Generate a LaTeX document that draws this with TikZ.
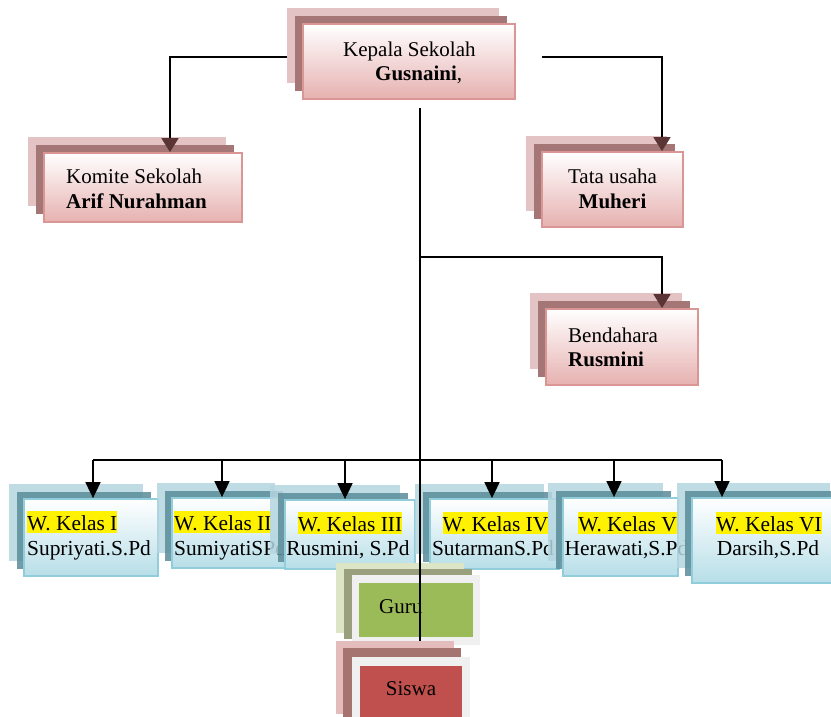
\documentclass[tikz,border=0pt]{standalone}
\usepackage{fontspec}
\setmainfont{Liberation Serif}
\usetikzlibrary{calc,fit,arrows.meta}
\definecolor{pinkL}{HTML}{E3C3C3}
\definecolor{pinkD}{HTML}{A57676}
\definecolor{pinkB}{HTML}{E6B1B0}
\definecolor{pinkE}{HTML}{D99694}
\definecolor{blueL}{HTML}{B4D6E0}
\definecolor{blueD}{HTML}{5E8F9C}
\definecolor{blueB}{HTML}{B7DEE8}
\definecolor{blueE}{HTML}{92CDDC}
\definecolor{arrowc}{HTML}{5B3535}
\definecolor{guruG}{HTML}{9BBB59}
\definecolor{guruL}{HTML}{DCE6C6}
\definecolor{guruD}{HTML}{9A9F7E}
\definecolor{siswaR}{HTML}{C0504D}
\definecolor{siswaL}{HTML}{E3BCBB}
\definecolor{siswaD}{HTML}{A57470}
\definecolor{frameG}{HTML}{F0F0F0}
\tikzset{
 txt/.style={font=\fontsize{21}{25}\selectfont, inner sep=0pt, anchor=base west},
 ktxt/.style={txt, font=\fontsize{21.4}{25}\selectfont},
 hl/.style={ktxt, fill=yellow, text height=19pt, text depth=3pt},
 pinkfront/.style={draw=pinkE, line width=1.8pt, top color=white, bottom color=pinkB, inner sep=0pt},
 bluefront/.style={draw=blueE, line width=1.8pt, top color=white, bottom color=blueB, inner sep=0pt},
 conn/.style={line width=1.8pt},
 trunk/.style={line width=1.5pt},
 toparrow/.style={conn, -{Triangle[length=14pt,width=17pt,color=arrowc]}},
 karrow/.style={conn, -{Triangle[length=16pt,width=15pt]}},
}
\newcommand\pinkbox[5]{%
 \fill[pinkL] (#2-16,#3-16) rectangle (#4-16,#5-16);
 \fill[pinkD] (#2-8,#3-8) rectangle (#4-8,#5-8);
 \node[pinkfront, fit={(#2,#3)(#4,#5)}] (#1) {};}
\newcommand\bluebox[5]{%
 \fill[blueL, fill opacity=0.85] (#2-15,#3-15) rectangle (#4-15,#5-15);
 \fill[blueD, fill opacity=0.88] (#2-7.5,#3-7) rectangle (#4-7.5,#5-7);
 \node[bluefront, fit={(#2,#3)(#4,#5)}] (#1) {};}
\begin{document}
\begin{tikzpicture}[x=1pt,y=-1pt]
\useasboundingbox (0,0) rectangle (831,716);
\clip (0,0) rectangle (831,716);
% top pink boxes
\pinkbox{ks}{303}{24}{515}{99}
\node[txt] (ks1) at (343,56) {Kepala Sekolah};
\node[txt] (ks2) at (375,80) {\textbf{Gusnaini},};
\pinkbox{km}{44}{153}{242}{222}
\node[txt] (km1) at (66,183) {Komite Sekolah};
\node[txt] (km2) at (66,208) {\textbf{Arif Nurahman}};
\pinkbox{tu}{542}{152}{683}{227}
\node[txt,anchor=base] (tu1) at (612.5,183) {Tata usaha};
\node[txt,anchor=base] (tu2) at (612.5,208) {\textbf{Muheri}};
\pinkbox{bd}{546}{309}{698}{385}
\node[txt] (bd1) at (568,342) {Bendahara};
\node[txt] (bd2) at (568,366) {\textbf{Rusmini}};
% top connectors
\coordinate (mL) at (287,57);
\coordinate (mR) at (542,57);
\coordinate (ax1) at (170,0);
\coordinate (ax2) at (662,0);
\draw[toparrow] (mL) -| (km.north -| ax1);
\draw[toparrow] (mR) -| (tu.north -| ax2);
\coordinate (t0) at (420,108);
\coordinate (t1) at (420,257);
\coordinate (t9) at (420,660);
\draw[toparrow] (t1) -| (bd.north -| ax2);
% kelas boxes
\bluebox{k1}{24}{499}{158}{576}
\node[hl] (k1a) at (27,530) {W. Kelas I};
\node[ktxt] (k1b) at (27,555) {Supriyati.S.Pd};
\bluebox{k2}{172}{498}{290}{568}
\node[hl] (k2a) at (174,530) {W. Kelas II};
\node[ktxt] (k2b) at (174,555) {SumiyatiSPd};
\bluebox{k3}{285}{500}{415}{569}
\node[hl,anchor=base] (k3a) at (350,531) {W. Kelas III};
\node[ktxt,anchor=base] (k3b) at (348,555) {Rusmini, S.Pd};
\bluebox{k4}{430}{499}{559}{569}
\node[hl,anchor=base] (k4a) at (495.5,531) {W. Kelas IV};
\node[ktxt,anchor=base] (k4b) at (493,555) {SutarmanS.Pd};
\bluebox{k5}{563}{498}{678}{576}
\node[hl,anchor=base] (k5a) at (627.5,531) {W. Kelas V};
\node[ktxt,anchor=base] (k5b) at (626.5,555) {Herawati,S.Pd};
\bluebox{k6}{692}{498}{845}{583}
\node[hl,anchor=base] (k6a) at (769,531) {W. Kelas VI};
\node[ktxt,anchor=base] (k6b) at (768,555) {Darsih,S.Pd};
% kelas bar and arrows
\coordinate (b1) at (93,460);
\coordinate (b2) at (222,460);
\coordinate (b3) at (345,460);
\coordinate (b4) at (492,460);
\coordinate (b5) at (614,460);
\coordinate (b6) at (722,460);
\draw[conn] (b1) -- (b6);
\draw[karrow] (b1) -- (b1 |- k1.north);
\draw[karrow] (b2) -- (b2 |- k2.north);
\draw[karrow] (b3) -- (b3 |- k3.north);
\draw[karrow] (b4) -- (b4 |- k4.north);
\draw[karrow] (b5) -- (b5 |- k5.north);
\draw[karrow] (b6) -- (b6 |- k6.north);
% guru
\fill[guruL] (336,563) rectangle (464,633);
\fill[guruD] (344,569) rectangle (472,639);
\node[fill=frameG, inner sep=0pt, fit={(352,575)(480,645)}] (gf) {};
\node[fill=guruG, inner sep=0pt, fit={(359,583)(473,637)}] (gu) {};
\node[txt] (gut) at (379,613) {Guru};
% trunk
\draw[trunk] (t0) -- (t9);
% siswa
\fill[siswaL] (336,641) rectangle (454,714);
\fill[siswaD] (343,648) rectangle (461,721);
\node[fill=frameG, inner sep=0pt, fit={(352,657)(470,730)}] (sf) {};
\node[fill=siswaR, inner sep=0pt, fit={(360,666)(462,730)}] (si) {};
\node[txt,anchor=base] (sit) at (411,695) {Siswa};
\end{tikzpicture}
\end{document}
